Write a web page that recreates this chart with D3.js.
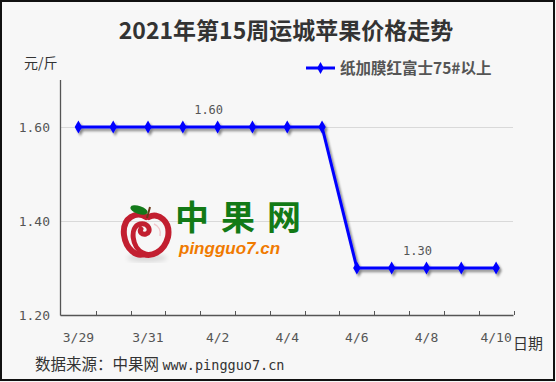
<!DOCTYPE html>
<html><head><meta charset="utf-8">
<script src="https://cdn.jsdelivr.net/npm/d3@7/dist/d3.min.js"></script>
<style>html,body{margin:0;padding:0;background:#f7f7f7;}svg{display:block;}</style>
</head><body><div id="chart"></div>
<script>
const title = "2021年第15周运城苹果价格走势";
const seriesName = "纸加膜红富士75#以上";
const categories = ["3/29","3/30","3/31","4/1","4/2","4/3","4/4","4/5","4/6","4/7","4/8","4/9","4/10"];
const prices = [1.60,1.60,1.60,1.60,1.60,1.60,1.60,1.60,1.30,1.30,1.30,1.30,1.30];
const xTickLabels = ["3/29","3/31","4/2","4/4","4/6","4/8","4/10"];
const yTicks = [1.20,1.40,1.60];
const labeledIndex = [4,10];
const yUnit = "元/斤";
const xUnit = "日期";
const source = "数据来源：中果网 ";
const sourceUrl = "www.pingguo7.cn";

const W=556,H=382;
const svg=d3.select("#chart").append("svg").attr("width",W).attr("height",H);
const defs=svg.append("defs");
const f=defs.append("filter").attr("id","sh").attr("x","-10%").attr("y","-10%").attr("width","130%").attr("height","130%");
f.append("feDropShadow").attr("dx",2).attr("dy",2.5).attr("stdDeviation",1.3).attr("flood-color","#000").attr("flood-opacity",0.45);
const fb=defs.append("filter").attr("id","blur");
fb.append("feGaussianBlur").attr("stdDeviation",2.5);

svg.append("rect").attr("x",1).attr("y",1).attr("width",553).attr("height",379).attr("fill","#f7f7f7").attr("stroke","#111").attr("stroke-width",2);

const x=d3.scaleBand().domain(categories).range([61,513.5]).paddingInner(0).paddingOuter(0);
const y=d3.scaleLinear().domain([1.2,1.7]).range([315,80]);

const mono="'DejaVu Sans Mono', monospace";
const cjk="'Noto Sans CJK SC','Noto Sans',sans-serif";

// title
svg.append("text").attr("x",286).attr("y",39).attr("text-anchor","middle")
  .attr("font-family",cjk).attr("font-weight","bold").attr("font-size",23).attr("fill","#333").text(title);

// grid
svg.append("g").selectAll("line").data(yTicks.filter(d=>d>1.2)).join("line")
  .attr("x1",61).attr("x2",513).attr("y1",d=>Math.round(y(d))+0.5).attr("y2",d=>Math.round(y(d))+0.5)
  .attr("stroke","#d9d9d9").attr("stroke-width",1);

// watermark
const wm=svg.append("g").attr("transform","translate(147,234)");
wm.append("ellipse").attr("cx",0).attr("cy",24).attr("rx",20).attr("ry",4).attr("fill","#000").attr("opacity",0.12).attr("filter","url(#blur)");
wm.append("path").attr("d","M -1,-17 C -10,-23 -25,-17 -23,1 C -21,16 -10,23 -3,20 C 3,23 17,19 21,3 C 24,-13 11,-22 2,-17")
  .attr("fill","none").attr("stroke","#c21f30").attr("stroke-width",6).attr("stroke-linecap","round");
wm.append("path").attr("d","M -4,19 C -15,14 -18,-7 -7,-10 C 2,-12 5,-2 -1,0 C -5,1 -8,-2 -6,-5")
  .attr("fill","none").attr("stroke","#c21f30").attr("stroke-width",5).attr("stroke-linecap","round");
wm.append("path").attr("d","M 7,-10 C 12,-8 14,-3 13,2").attr("fill","none").attr("stroke","#f0c8cc").attr("stroke-width",1.5);
wm.append("line").attr("x1",0).attr("y1",-16).attr("x2",3).attr("y2",-27).attr("stroke","#6b3a1a").attr("stroke-width",2);
wm.append("ellipse").attr("cx",-8).attr("cy",-24).attr("rx",9).attr("ry",4).attr("transform","rotate(18,-8,-24)").attr("fill","#137a1a");
svg.append("text").attr("x",175).attr("y",230).attr("font-family",cjk).attr("font-weight","bold").attr("font-size",34)
  .attr("letter-spacing",12).attr("fill","#127a16").text("中果网");
svg.append("text").attr("x",179).attr("y",254).attr("font-family","'Liberation Sans',Arial,sans-serif").attr("font-weight","bold")
  .attr("font-style","italic").attr("font-size",17).attr("fill","#f07a00").text("pingguo7.cn");

// axes
svg.append("line").attr("x1",60.5).attr("x2",60.5).attr("y1",80).attr("y2",315.5).attr("stroke","#555").attr("stroke-width",1.3);
svg.append("line").attr("x1",60.5).attr("x2",513.5).attr("y1",315.5).attr("y2",315.5).attr("stroke","#555").attr("stroke-width",1.3);
const bounds=categories.map(c=>x(c)).concat([x(categories[categories.length-1])+x.bandwidth()]);
svg.append("g").selectAll("line").data(bounds.slice(1)).join("line")
  .attr("x1",d=>Math.round(d)+0.5).attr("x2",d=>Math.round(d)+0.5).attr("y1",315).attr("y2",311).attr("stroke","#555").attr("stroke-width",1);

svg.append("g").selectAll("text").data(yTicks).join("text")
  .attr("x",50).attr("y",d=>y(d)+5).attr("text-anchor","end").attr("font-family",mono).attr("font-size",13)
  .attr("fill","#555").text(d=>d.toFixed(2));
svg.append("g").selectAll("text").data(xTickLabels).join("text")
  .attr("x",d=>x(d)+x.bandwidth()/2).attr("y",342).attr("text-anchor","middle").attr("font-family",mono).attr("font-size",13)
  .attr("fill","#555").text(d=>d);

svg.append("text").attr("x",24).attr("y",68).attr("font-family",cjk).attr("font-size",14).attr("fill","#333").text(yUnit);
svg.append("text").attr("x",513).attr("y",349).attr("font-family",cjk).attr("font-size",15).attr("fill","#333").text(xUnit);
const st=svg.append("text").attr("x",35).attr("y",370).attr("fill","#333");
st.append("tspan").attr("font-family",cjk).attr("font-size",15.5).text(source);
st.append("tspan").attr("font-family",mono).attr("font-size",13.5).text(sourceUrl);

// legend
const lg=svg.append("g");
lg.append("line").attr("x1",306).attr("x2",335).attr("y1",68).attr("y2",68).attr("stroke","#0000ff").attr("stroke-width",3);
lg.append("path").attr("d",d3.symbol(d3.symbolDiamond,40)()).attr("transform","translate(320.5,68)").attr("fill","#0000ff");
lg.append("text").attr("x",340).attr("y",74).attr("font-family",cjk).attr("font-weight","bold").attr("font-size",15.5).attr("fill","#555").text(seriesName);

// series
const px=(d,i)=>x(categories[i])+x.bandwidth()/2;
const sg=svg.append("g").attr("filter","url(#sh)");
sg.append("path").datum(prices).attr("d",d3.line().x(px).y(d=>y(d))).attr("fill","none").attr("stroke","#0000ff").attr("stroke-width",3).attr("stroke-linejoin","round");
sg.selectAll("path.m").data(prices).join("path").attr("class","m").attr("d",d3.symbol(d3.symbolDiamond,48)())
  .attr("transform",(d,i)=>`translate(${px(d,i)},${y(d)})`).attr("fill","#0000ff");

svg.append("g").selectAll("text").data(labeledIndex).join("text")
  .attr("x",i=>px(prices[i],i)-9).attr("y",i=>y(prices[i])-13).attr("text-anchor","middle")
  .attr("font-family",mono).attr("font-size",12).attr("fill","#555").text(i=>prices[i].toFixed(2));
</script></body></html>
